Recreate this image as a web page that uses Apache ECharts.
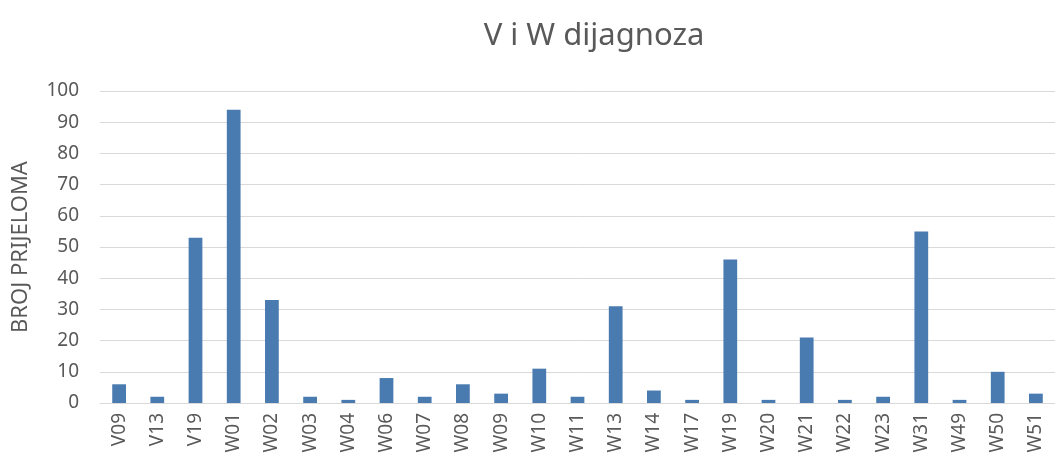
<!DOCTYPE html>
<html>
<head>
<meta charset="utf-8">
<script src="https://cdn.jsdelivr.net/npm/echarts@6/dist/echarts.min.js"></script>
<style>
  html, body { margin: 0; padding: 0; background: #fff; }
  #chart { width: 1055px; height: 464px; }
</style>
</head>
<body>
<div id="chart"></div>
<script>
// kategorije dijagnoza
const categories = ['V09', 'V13', 'V19', 'W01', 'W02', 'W03', 'W04', 'W06', 'W07', 'W08', 'W09', 'W10', 'W11',
  'W13', 'W14', 'W17', 'W19', 'W20', 'W21', 'W22', 'W23', 'W31', 'W49', 'W50', 'W51']
// broj prijeloma
const counts = [6, 2, 53, 94, 33, 2, 1, 8, 2, 6, 3, 11, 2, 31, 4, 1, 46, 1, 21, 1, 2, 55, 1, 10, 3]

const chart = echarts.init(document.getElementById('chart'))
const option = {
  animation: false,
  textStyle: { fontFamily: 'Noto Sans' },
  title: {
    text: 'V i W dijagnoza',
    left: 589,
    textAlign: 'center',
    top: 16,
    textStyle: { color: '#595959', fontSize: 31, fontWeight: 'normal' }
  },
  grid: { left: 100, right: -11, top: 91, bottom: 61 },
  xAxis: {
    type: 'category',
    data: categories,
    axisTick: { show: false },
    axisLine: { lineStyle: { color: '#d9d9d9' } },
    axisLabel: { rotate: 90, color: '#595959', fontSize: 19, margin: 10, interval: 0 }
  },
  yAxis: {
    type: 'value',
    min: 0,
    max: 100,
    interval: 10,
    name: 'BROJ PRIJELOMA',
    nameLocation: 'middle',
    nameGap: 68,
    nameTextStyle: { color: '#595959', fontSize: 22 },
    axisLabel: { color: '#595959', fontSize: 19, margin: 21 },
    splitLine: { lineStyle: { color: '#d9d9d9' } }
  },
  series: [{
    type: 'bar',
    data: counts,
    barWidth: '36%',
    itemStyle: { color: '#4a7bb0' }
  }]
}
chart.setOption(option)
</script>
</body>
</html>
